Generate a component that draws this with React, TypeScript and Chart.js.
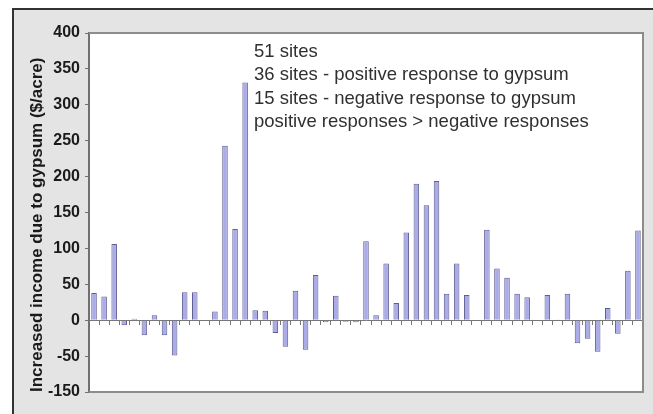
import React, { useEffect, useRef } from 'react';
import { Chart, registerables } from 'chart.js';

Chart.register(...registerables);

const siteLabels = [
  '1', '2', '3', '4', '5', '6', '7', '8', '9', '10',
  '11', '12', '13', '14', '15', '16', '17', '18', '19', '20',
  '21', '22', '23', '24', '25', '26', '27', '28', '29', '30',
  '31', '32', '33', '34', '35', '36', '37', '38', '39', '40',
  '41', '42', '43', '44', '45', '46', '47', '48', '49', '50',
  '51', '52', '53', '54', '55',
];

const incomeIncrease = [
  38, 33, 106, -7, 2, -21, 7, -21, -49, 39,
  39, 0, 12, 243, 127, 331, 14, 13, -18, -37,
  41, -41, 63, -3, 34, -2, -3, 110, 7, 79,
  24, 122, 190, 160, 194, 37, 79, 35, -1, 126,
  72, 59, 37, 32, 0, 35, 1, 37, -32, -26,
  -44, 17, -19, 69, 125,
];

const yTickValues = [-100, -50, 0, 50, 100, 150, 200, 250, 300, 350, 400];
const yTickLabels = ['-150', '-50', '0', '50', '100', '150', '200', '250', '300', '350', '400'];

const yAxisTitle = 'Increased income due to gypsum ($/acre)';

const noteLines = [
  '51 sites',
  '36 sites - positive response to gypsum',
  '15 sites - negative response to gypsum',
  'positive responses > negative responses',
];

const FONT = "'Liberation Sans', Arial, sans-serif";

const plotFramePlugin = {
  id: 'plotFrame',
  beforeDraw(chart: any) {
    const { ctx, chartArea } = chart;
    ctx.save();
    ctx.fillStyle = '#ffffff';
    ctx.fillRect(chartArea.left, chartArea.top, chartArea.right - chartArea.left, chartArea.bottom - chartArea.top);
    ctx.restore();
  },
  afterDraw(chart: any) {
    const { ctx, chartArea } = chart;
    ctx.save();
    ctx.strokeStyle = '#8c8c8c';
    ctx.lineWidth = 2;
    ctx.beginPath();
    ctx.moveTo(chartArea.left, chartArea.top);
    ctx.lineTo(chartArea.right, chartArea.top);
    ctx.lineTo(chartArea.right, chartArea.bottom);
    ctx.lineTo(chartArea.left, chartArea.bottom);
    ctx.stroke();
    ctx.fillStyle = '#303030';
    ctx.font = `18.5px ${FONT}`;
    ctx.textAlign = 'left';
    ctx.textBaseline = 'alphabetic';
    noteLines.forEach((line, i) => {
      ctx.fillText(line, chartArea.left + 165, chartArea.top + 24 + i * 23.3);
    });
    ctx.restore();
  },
};

export default function App() {
  const canvasRef = useRef<HTMLCanvasElement | null>(null);

  useEffect(() => {
    const canvas = canvasRef.current;
    if (!canvas) return;
    const chart = new Chart(canvas, {
      type: 'bar',
      data: {
        labels: siteLabels,
        datasets: [
          {
            data: incomeIncrease,
            backgroundColor: '#ababe8',
            borderColor: '#5e5e92',
            borderWidth: 1,
            barPercentage: 0.55,
            categoryPercentage: 1,
          },
        ],
      },
      options: {
        responsive: false,
        animation: false,
        devicePixelRatio: 1,
        layout: { padding: { left: 23, right: 10, top: 33, bottom: 22 } },
        plugins: {
          legend: { display: false },
          tooltip: { enabled: false },
        },
        font: { family: FONT },
        scales: {
          x: {
            type: 'category',
            position: { y: 0 } as any,
            offset: true,
            ticks: { display: false },
            grid: {
              display: true,
              drawOnChartArea: false,
              drawTicks: true,
              tickLength: 4,
              color: '#777777',
              offset: true,
            },
            border: { display: true, color: '#777777', width: 1 },
          },
          y: {
            type: 'linear',
            min: -100,
            max: 400,
            afterFit(scale: any) {
              scale.width = 66;
            },
            ticks: {
              stepSize: 50,
              padding: 5,
              color: '#1a1a1a',
              font: { family: FONT, size: 16, weight: 'bold' },
              callback: (value: any) => {
                const idx = yTickValues.indexOf(Number(value));
                return idx >= 0 ? yTickLabels[idx] : '';
              },
            },
            grid: {
              drawOnChartArea: false,
              drawTicks: true,
              tickLength: 4,
              color: '#707070',
            },
            border: { display: true, color: '#707070', width: 2 },
            title: {
              display: true,
              text: yAxisTitle,
              align: 'start',
              color: '#1a1a1a',
              font: { family: FONT, size: 17, weight: 'bold' },
              padding: { top: 4, bottom: 4 },
            },
          },
        },
      },
      plugins: [plotFramePlugin],
    });
    return () => chart.destroy();
  }, []);

  return (
    <>
      <div
        style={{
          position: 'fixed',
          left: 12,
          top: 8,
          right: 0,
          bottom: 0,
          background: '#e4e4e4',
          borderLeft: '2px solid #333333',
          borderTop: '2px solid #333333',
          boxSizing: 'border-box',
        }}
      />
      <canvas
        ref={canvasRef}
        width={653}
        height={414}
        style={{ position: 'fixed', left: 0, top: 0, width: 653, height: 414 }}
      />
    </>
  );
}
